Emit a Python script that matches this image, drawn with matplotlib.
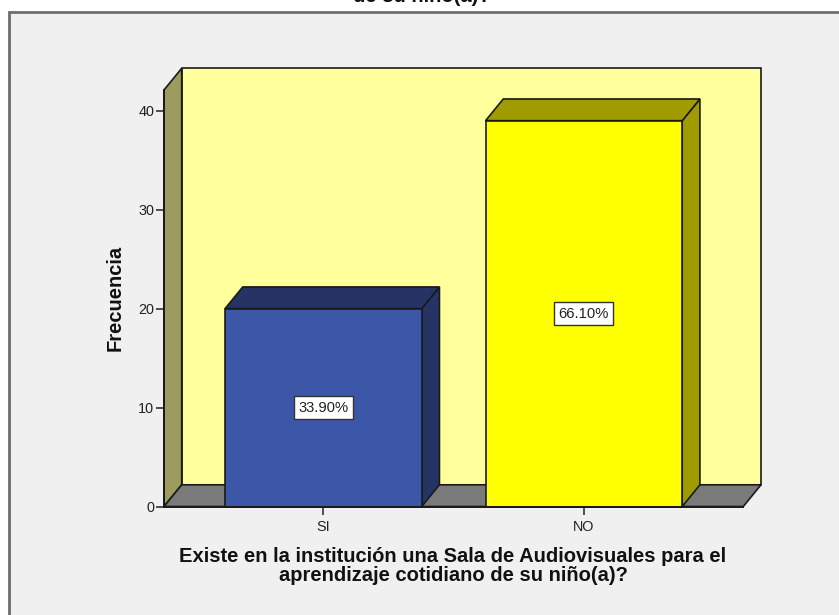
import matplotlib
matplotlib.use("Agg")
import matplotlib.pyplot as plt
from matplotlib.patches import Polygon, Rectangle

# ---------------- DATOS ----------------
categorias = ["SI", "NO"]
frecuencias = [20, 39]
porcentajes = ["33.90%", "66.10%"]
colores_frente = ["#3d57a8", "#ffff00"]
colores_lado = ["#253465", "#a09c00"]

titulo = ("Existe en la institución una Sala de Audiovisuales para el\n"
          "aprendizaje cotidiano de su niño(a)?")

# ---------------- FIGURA ----------------
W, H = 839, 615
plt.rcParams["font.family"] = ["Liberation Sans", "DejaVu Sans"]
fig = plt.figure(figsize=(W / 100, H / 100), dpi=100, facecolor="white")

# marco gris exterior (estilo SPSS)
fig.patches.append(Rectangle((9 / W, -0.1), 1.2, 1.1 - 12 / H,
                             transform=fig.transFigure, facecolor="#f0f0f0",
                             edgecolor="#6e6e6e", linewidth=2, zorder=-10))

# plano frontal del grafico (pixeles)
x0, x1 = 164, 743.3
y0, y1 = 506.5, 90
ax = fig.add_axes([x0 / W, (H - y0) / H, (x1 - x0) / W, (y0 - y1) / H])
ax.set_zorder(2)
ax.patch.set_visible(False)

xmin, xmax = -0.612, 1.612
ymin, ymax = 0, 42.1
ax.set_xlim(xmin, xmax)
ax.set_ylim(ymin, ymax)

# profundidad 3D
dx = 17.7 * (xmax - xmin) / (x1 - x0)
dy = 21.7 * (ymax - ymin) / (y0 - y1)
borde = "#1a1a1a"
lw = 1.2

def poly(pts, color, z):
    ax.add_patch(Polygon(pts, closed=True, facecolor=color, edgecolor=borde,
                         linewidth=lw, clip_on=False, zorder=z))

# pared del fondo, pared izquierda y piso
poly([(xmin + dx, dy), (xmax + dx, dy), (xmax + dx, ymax + dy), (xmin + dx, ymax + dy)], "#ffff9c", 1)
poly([(xmin, 0), (xmin + dx, dy), (xmin + dx, ymax + dy), (xmin, ymax)], "#9e9b5e", 1)
poly([(xmin, 0), (xmax, 0), (xmax + dx, dy), (xmin + dx, dy)], "#7a7a7a", 1)

# barras
ancho = 0.755
for i, (cat, val) in enumerate(zip(categorias, frecuencias)):
    a, b = i - ancho / 2, i + ancho / 2
    poly([(b, 0), (b + dx, dy), (b + dx, val + dy), (b, val)], colores_lado[i], 3)
    poly([(a, val), (b, val), (b + dx, val + dy), (a + dx, val + dy)], colores_lado[i], 3)
    poly([(a, 0), (b, 0), (b, val), (a, val)], colores_frente[i], 4)
    ax.text(i, val / 2, porcentajes[i], ha="center", va="center", fontsize=10.6,
            color="#222222", zorder=6,
            bbox=dict(boxstyle="square,pad=0.3", facecolor="white", edgecolor="#333333", linewidth=1))

# ejes
for s in ["top", "right"]:
    ax.spines[s].set_visible(False)
for s in ["left", "bottom"]:
    ax.spines[s].set_color(borde)
    ax.spines[s].set_linewidth(1.4)
    ax.spines[s].set_zorder(5)

ax.set_yticks([0, 10, 20, 30, 40])
ax.set_xticks(range(len(categorias)))
ax.set_xticklabels(categorias)
ax.tick_params(axis="both", direction="out", length=6, width=1.2, color="#333333",
               labelsize=10.4, labelcolor="#222222")
ax.tick_params(axis="y", pad=1)
ax.tick_params(axis="x", pad=4)

# textos
fig.text(115 / W, 1 - 298 / H, "Frecuencia", rotation=90, ha="center", va="center",
         fontsize=14.5, fontweight="bold", color="#111111")
fig.text(453 / W, 1 - 566 / H, titulo, ha="center", va="center", fontsize=14.5,
         fontweight="bold", color="#111111", linespacing=1.05)
# titulo superior cortado (como en la imagen original)
fig.text(422 / W, 1 - 2 / H, "de su niño(a)?", ha="center", va="baseline",
         fontsize=14.5, fontweight="bold", color="#111111")

plt.savefig("out.png", dpi=100, facecolor="white")
plt.close()
